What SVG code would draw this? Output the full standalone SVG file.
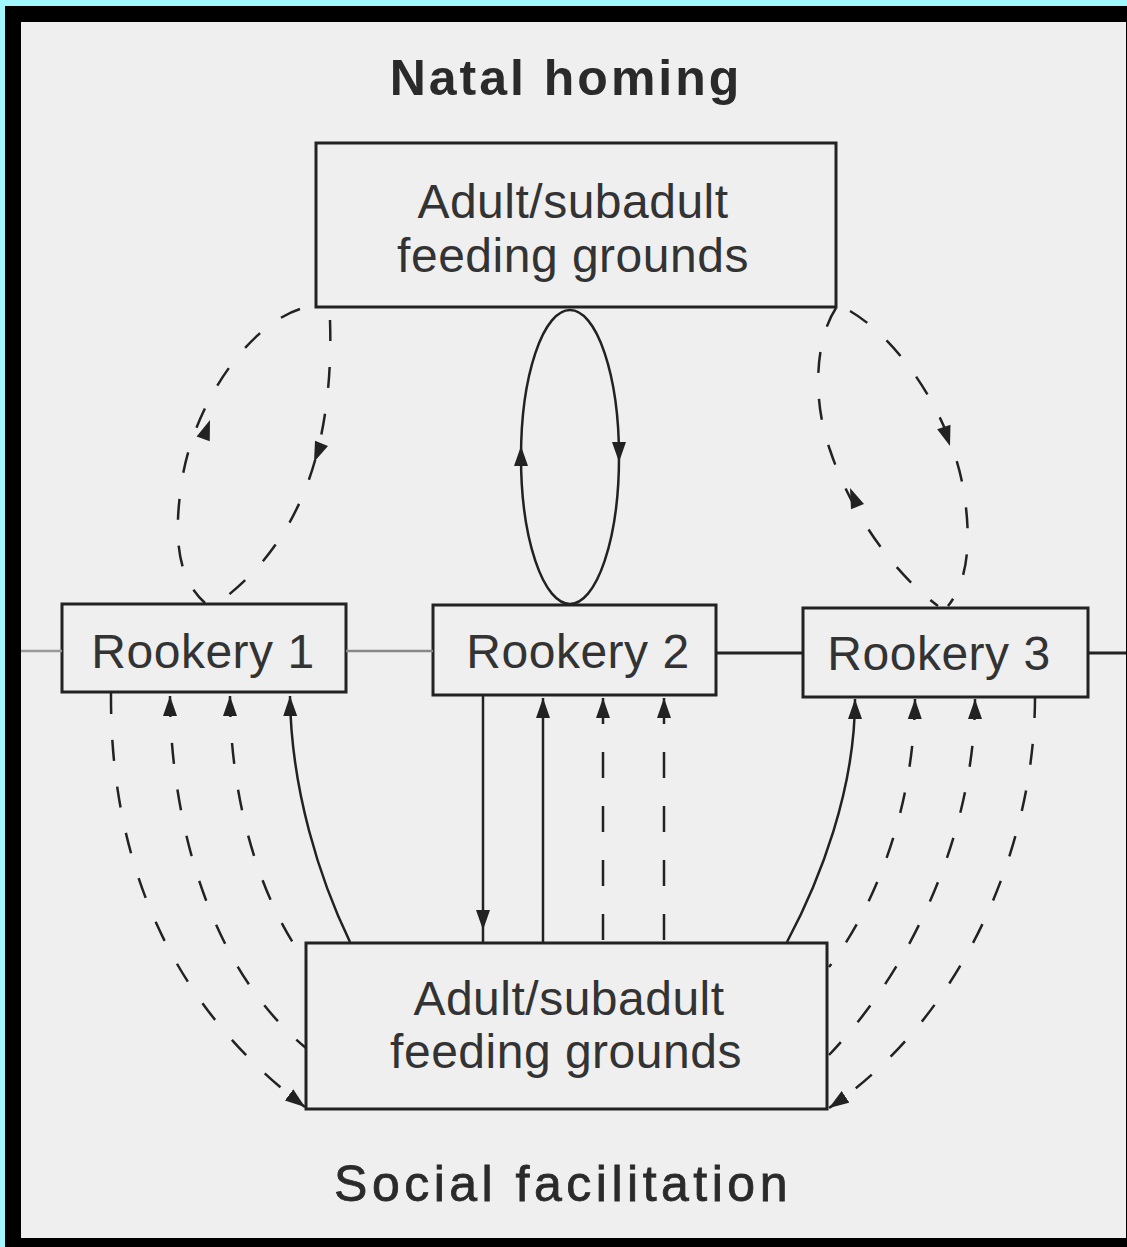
<svg xmlns="http://www.w3.org/2000/svg" xmlns:xlink="http://www.w3.org/1999/xlink" width="1127" height="1247" viewBox="0 0 1127 1247">
<style>
.box{fill:none;stroke:#222;stroke-width:3}
.lbl{font-family:"Liberation Sans",Arial,sans-serif;font-size:48px;fill:#333;text-anchor:middle;letter-spacing:0.5px}
.solid{fill:none;stroke:#222;stroke-width:2.5}
.dash{fill:none;stroke:#222;stroke-width:2.5;stroke-dasharray:21 26}
.vdash{fill:none;stroke:#222;stroke-width:2.5;stroke-dasharray:26 28}
.ah{fill:#222}
</style>
<defs>
<path id="ah" d="M0,0 L-20,-7 L-20,7 Z"/>
<marker id="mk" markerUnits="userSpaceOnUse" markerWidth="22" markerHeight="16" refX="20" refY="7.5" orient="auto-start-reverse" viewBox="0 0 22 16">
<path d="M0,0.5 L20,7.5 L0,14.5 Z" fill="#222"/>
</marker>
</defs>
<rect x="0" y="0" width="1127" height="1247" fill="#a2f7fd"/>
<rect x="5" y="6" width="1122" height="1241" fill="#000"/>
<rect x="21" y="22" width="1105" height="1216" fill="#efefef"/>

<text x="566" y="95" font-family="'Liberation Sans',Arial,sans-serif" font-size="50" font-weight="bold" letter-spacing="3" text-anchor="middle" fill="#2a2a2a">Natal homing</text>
<text x="563" y="1201" font-family="'Liberation Sans',Arial,sans-serif" font-size="50" letter-spacing="4.5" text-anchor="middle" fill="#2a2a2a" stroke="#2a2a2a" stroke-width="0.8">Social facilitation</text>

<g id="top-feeding">
<rect class="box" x="316" y="143" width="520" height="164"/>
<text class="lbl" x="573" y="218">Adult/subadult</text>
<text class="lbl" x="573" y="272">feeding grounds</text>
</g>
<g id="rookery1">
<rect class="box" x="62" y="604" width="284" height="88"/>
<text class="lbl" x="203" y="668">Rookery 1</text>
</g>
<g id="rookery2">
<rect class="box" x="433" y="605" width="283" height="90"/>
<text class="lbl" x="578" y="668">Rookery 2</text>
</g>
<g id="rookery3">
<rect class="box" x="803" y="608" width="285" height="89"/>
<text class="lbl" x="939" y="670">Rookery 3</text>
</g>
<g id="bottom-feeding">
<rect class="box" x="306" y="943" width="521" height="166"/>
<text class="lbl" x="569" y="1015">Adult/subadult</text>
<text class="lbl" x="566" y="1068">feeding grounds</text>
</g>

<g id="connectors">
<line x1="21" y1="651" x2="62" y2="651" stroke="#999" stroke-width="2.5"/>
<line x1="346" y1="651" x2="433" y2="651" stroke="#888" stroke-width="2.5"/>
<line x1="716" y1="653" x2="803" y2="653" stroke="#222" stroke-width="3"/>
<line x1="1088" y1="653" x2="1126" y2="653" stroke="#222" stroke-width="3"/>

<path class="dash" d="M300,309 C250,325 195,400 182,480 C172,545 180,580 205,603"/>
<use href="#ah" class="ah" transform="translate(210,420) rotate(-70)"/>
<path class="dash" d="M330,320 C332,380 325,440 305,490 C285,540 255,575 222,600"/>
<use href="#ah" class="ah" transform="translate(314,462) rotate(112)"/>

<ellipse class="solid" cx="570" cy="457" rx="49" ry="147"/>
<use href="#ah" class="ah" transform="translate(521,446) rotate(-90)"/>
<use href="#ah" class="ah" transform="translate(619,462) rotate(90)"/>

<path class="dash" d="M836,308 C815,340 812,400 830,450 C850,510 890,570 938,606"/>
<use href="#ah" class="ah" transform="translate(850,488) rotate(-112)"/>
<path class="dash" d="M850,311 C900,340 955,420 965,500 C972,550 965,585 948,606"/>
<use href="#ah" class="ah" transform="translate(950,446) rotate(72)"/>

<path class="dash" d="M111,693 C110,830 150,990 305,1107" marker-end="url(#mk)"/>
<path class="dash" d="M170,696 C170,800 200,960 306,1048" marker-start="url(#mk)"/>
<path class="dash" d="M230,696 C230,800 260,900 306,962" marker-start="url(#mk)"/>
<path class="solid" d="M290,696 C291,790 320,880 350,942" marker-start="url(#mk)"/>

<line class="solid" x1="483" y1="695" x2="483" y2="943"/>
<use href="#ah" class="ah" transform="translate(483,930) rotate(90)"/>
<line class="solid" x1="543" y1="698" x2="543" y2="943" marker-start="url(#mk)"/>
<line class="vdash" x1="603" y1="698" x2="603" y2="943" marker-start="url(#mk)"/>
<line class="vdash" x1="664" y1="698" x2="664" y2="943" marker-start="url(#mk)"/>

<path class="solid" d="M855,699 C855,790 820,880 787,942" marker-start="url(#mk)"/>
<path class="dash" d="M915,699 C914,800 880,900 829,967" marker-start="url(#mk)"/>
<path class="dash" d="M975,699 C975,820 920,960 829,1055" marker-start="url(#mk)"/>
<path class="dash" d="M1035,697 C1035,850 960,1020 829,1108" marker-end="url(#mk)"/>
</g>
</svg>
